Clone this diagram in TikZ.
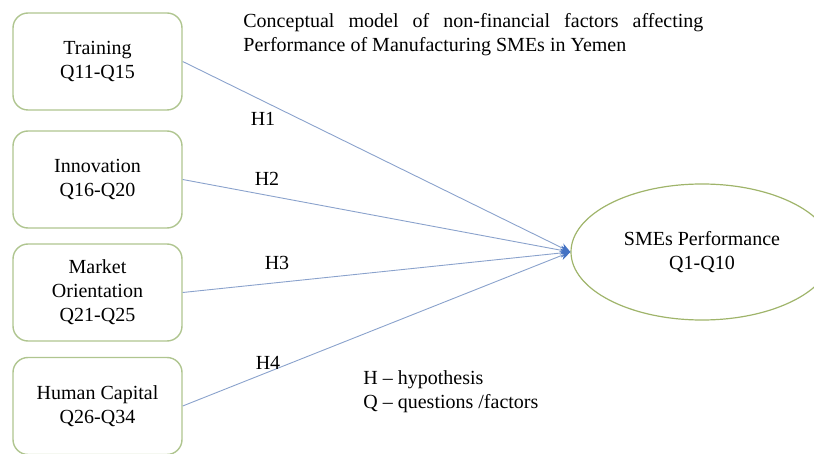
\documentclass[tikz,border=0pt]{standalone}
\usepackage{fontspec}
\setmainfont{Liberation Serif}
\usetikzlibrary{arrows.meta,shapes.geometric}
\definecolor{boxline}{HTML}{AFC58F}
\definecolor{ovalline}{HTML}{9FB46A}
\definecolor{pathline}{HTML}{8AA2CC}
\definecolor{tipfill}{HTML}{4472C4}
\begin{document}
\begin{tikzpicture}[x=0.5pt,y=-0.5pt,
  factor/.style={draw=boxline,line width=0.7pt,rounded corners=7.5pt,minimum width=84.5pt,minimum height=48.5pt,align=center,inner sep=2pt},
  hypo/.style={draw=pathline,line width=0.45pt,-{Stealth[length=5pt,width=4.5pt,color=tipfill,fill=tipfill]}},
  every node/.style={font=\fontsize{10}{12}\selectfont}]
  \useasboundingbox (0,0) rectangle (814,454);
  \node[factor] (train) at (97.5,61.5) {Training\\Q11-Q15};
  \node[factor] (innov) at (97.5,179.5) {Innovation\\Q16-Q20};
  \node[factor] (market) at (97.5,292.5) {Market\\Orientation\\Q21-Q25};
  \node[factor] (human) at (97.5,406) {Human Capital\\Q26-Q34};
  \node[ellipse,draw=ovalline,line width=0.6pt,minimum width=131pt,minimum height=68pt,inner sep=0pt,align=center] (perf) at (702,252) {SMEs Performance\\Q1-Q10};
  \node[anchor=north west,text width=230pt,align=justify,inner sep=0pt] (title) at (243,13) {Conceptual model of non-financial factors affecting\linebreak Performance of Manufacturing SMEs in Yemen};
  \foreach \src/\lab/\x/\y in {train/H1/263/119, innov/H2/267/179, market/H3/277/263, human/H4/268/363} {
    \draw[hypo] (\src.east) -- (perf.west);
    \node (\lab) at (\x,\y) {\lab};
  }
  \node[anchor=west,align=left,inner sep=0pt] (legend) at (363,391.5) {H -- hypothesis\\Q -- questions /factors};
\end{tikzpicture}
\end{document}
